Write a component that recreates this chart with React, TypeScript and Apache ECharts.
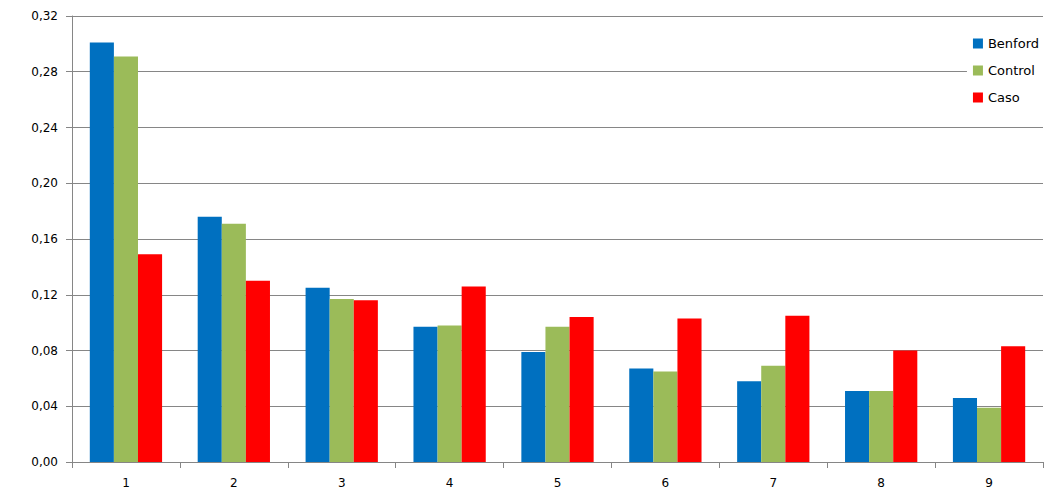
import React, { useEffect, useRef } from "react";
import * as echarts from "echarts";

const categories = ["1", "2", "3", "4", "5", "6", "7", "8", "9"];
const benford = [0.301, 0.176, 0.125, 0.097, 0.079, 0.067, 0.058, 0.051, 0.046];
const control = [0.291, 0.171, 0.117, 0.098, 0.097, 0.065, 0.069, 0.051, 0.039];
const caso = [0.149, 0.130, 0.116, 0.126, 0.104, 0.103, 0.105, 0.080, 0.083];

const FONT = "DejaVu Sans";

const App: React.FC = () => {
  const chartRef = useRef<HTMLDivElement>(null);

  useEffect(() => {
    if (!chartRef.current) return;
    const chart = echarts.init(chartRef.current, null, { renderer: "svg" });
    const barSeries = (name: string, data: number[], color: string) => ({
      name,
      type: "bar",
      data,
      barGap: "0%",
      barCategoryGap: "33%",
      itemStyle: { color },
    });
    chart.setOption({
      animation: false,
      textStyle: { fontFamily: FONT },
      grid: { left: 72, right: 12, top: 16, bottom: 39 },
      legend: {
        orient: "vertical",
        right: 12,
        top: 35,
        itemWidth: 10,
        itemHeight: 10,
        itemGap: 14,
        backgroundColor: "#fff",
        padding: [2, 4, 2, 6],
        icon: "rect",
        textStyle: { fontFamily: FONT, fontSize: 13, color: "#000" },
        data: ["Benford", "Control", "Caso"],
      },
      xAxis: {
        type: "category",
        data: categories,
        axisLine: { lineStyle: { color: "#868686" } },
        axisTick: { show: true, length: 6, lineStyle: { color: "#868686" } },
        axisLabel: { color: "#000", fontSize: 12, margin: 15, fontFamily: FONT },
      },
      yAxis: {
        type: "value",
        min: 0,
        max: 0.32,
        interval: 0.04,
        axisLine: { show: true, lineStyle: { color: "#868686" } },
        axisTick: { show: true, length: 6, lineStyle: { color: "#868686" } },
        splitLine: { lineStyle: { color: "#868686" } },
        axisLabel: {
          color: "#000",
          fontSize: 12,
          margin: 14,
          fontFamily: FONT,
          formatter: (v: number) => v.toFixed(2).replace(".", ","),
        },
      },
      series: [
        barSeries("Benford", benford, "#0070c0"),
        barSeries("Control", control, "#9bbb59"),
        barSeries("Caso", caso, "#ff0000"),
      ],
    });
    return () => chart.dispose();
  }, []);

  return <div ref={chartRef} style={{ width: 1055, height: 501, margin: -8 }} />;
};

export default App;
